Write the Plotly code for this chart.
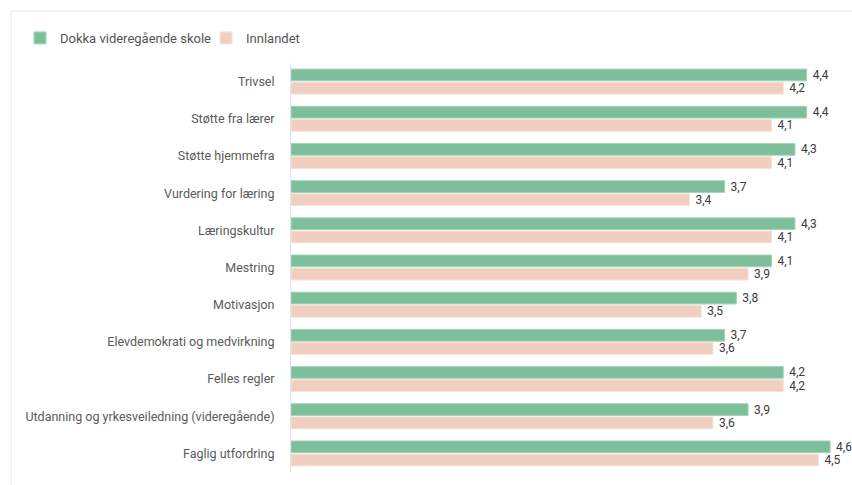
import plotly.graph_objects as go

categories = [
    "Trivsel",
    "Støtte fra lærer",
    "Støtte hjemmefra",
    "Vurdering for læring",
    "Læringskultur",
    "Mestring",
    "Motivasjon",
    "Elevdemokrati og medvirkning",
    "Felles regler",
    "Utdanning og yrkesveiledning (videregående)",
    "Faglig utfordring",
]
dokka = [4.4, 4.4, 4.3, 3.7, 4.3, 4.1, 3.8, 3.7, 4.2, 3.9, 4.6]
innlandet = [4.2, 4.1, 4.1, 3.4, 4.1, 3.9, 3.5, 3.6, 4.2, 3.6, 4.5]
series_names = ["Dokka videregående skole", "Innlandet"]

GREEN = "#7ebf9b"
PINK = "#f0cfc1"
FONT = "Roboto"


def fmt(v):
    return " " + f"{v:.1f}".replace(".", ",")


fig = go.Figure()
for name, vals, col, line in [
    (series_names[0], dokka, GREEN, "#a6d3b9"),
    (series_names[1], innlandet, PINK, "#f6e1d8"),
]:
    fig.add_trace(go.Bar(
        y=categories,
        x=vals,
        name=name,
        orientation="h",
        marker=dict(color=col, line=dict(color=line, width=1)),
        text=[fmt(v) for v in vals],
        textposition="outside",
        constraintext="none",
        textfont=dict(family=FONT, size=12, color="#3a3a3a"),
        cliponaxis=False,
        hoverinfo="skip",
    ))

L, R, T, B = 291, 10, 63, 13
W = 852 - L - R
H = 485 - T - B

fig.update_layout(
    width=852,
    height=485,
    margin=dict(l=L, r=R, t=T, b=B, autoexpand=False),
    barmode="group",
    bargap=0.29,
    bargroupgap=0.11,
    plot_bgcolor="white",
    paper_bgcolor="white",
    font=dict(family=FONT, size=12.5, color="#5a5a5a"),
    showlegend=True,
    legend=dict(
        orientation="h",
        xref="container", yref="container",
        x=20 / 852, xanchor="left",
        y=1 - 38 / 485, yanchor="middle",
        font=dict(family=FONT, size=13, color="#555555"),
        itemwidth=30,
        entrywidth=141,
        traceorder="normal",
    ),
    xaxis=dict(
        range=[0, W / 117.2],
        visible=False,
        fixedrange=True,
    ),
    yaxis=dict(
        autorange="reversed",
        automargin=False,
        showline=True,
        linecolor="#dfe4ee",
        linewidth=1,
        showgrid=False,
        ticks="",
        ticklabelstandoff=13,
        tickfont=dict(family=FONT, size=12.5, color="#5a5a5a"),
        fixedrange=True,
    ),
    shapes=[dict(
        type="rect", xref="paper", yref="paper",
        x0=(11 - L) / W, x1=(900 - L) / W,
        y0=-(40) / H, y1=(485 - B - 11) / H,
        line=dict(color="#e6e6e6", width=1),
        layer="below",
    )],
)

fig.write_html(
    "out.html",
    config={"displayModeBar": False},
    post_script="document.body.style.margin='0';document.body.style.overflow='hidden';",
)
